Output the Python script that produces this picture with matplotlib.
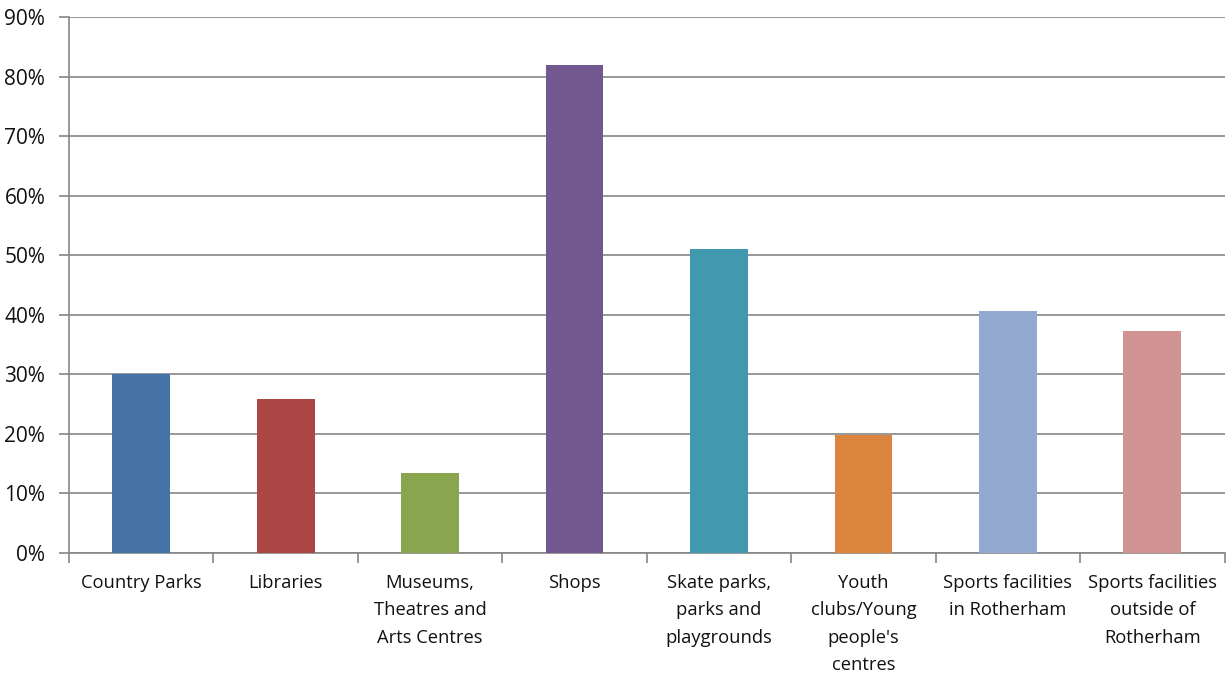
import matplotlib.pyplot as plt
from matplotlib.ticker import PercentFormatter, FixedLocator

categories = [
    "Country Parks",
    "Libraries",
    "Museums,\nTheatres and\nArts Centres",
    "Shops",
    "Skate parks,\nparks and\nplaygrounds",
    "Youth\nclubs/Young\npeople's\ncentres",
    "Sports facilities\nin Rotherham",
    "Sports facilities\noutside of\nRotherham",
]
values = [30.0, 25.8, 13.5, 81.9, 51.1, 19.8, 40.7, 37.2]
colors = ["#4572A7", "#AA4643", "#89A54E", "#71588F",
          "#4198AF", "#DB843D", "#93A9CF", "#D19392"]

plt.rcParams["font.family"] = ["Open Sans", "DejaVu Sans"]

fig = plt.figure(figsize=(12.27, 6.75), dpi=100)
ax = fig.add_axes([0.0562, 0.1807, 0.9418, 0.7941])

x = range(len(categories))
ax.bar(x, values, width=0.4, color=colors, zorder=3)

ax.set_xlim(-0.5, len(categories) - 0.5)
ax.set_ylim(0, 90)
ax.yaxis.set_major_locator(FixedLocator(range(0, 91, 10)))
ax.yaxis.set_major_formatter(PercentFormatter(decimals=0))
ax.grid(axis="y", color="#868686", linewidth=1.2, zorder=0)

# category labels centred under bars, ticks on the category boundaries
ax.set_xticks(list(x))
ax.set_xticklabels(categories, fontsize=13.2, linespacing=1.68, va="top", color="#111111")
ax.tick_params(axis="x", length=0, pad=15)
ax.set_xticks([i - 0.5 for i in range(len(categories) + 1)], minor=True)
ax.tick_params(axis="x", which="minor", length=7, color="#868686", width=1.2)
ax.tick_params(axis="y", length=7, color="#868686", width=1.2, labelsize=15,
               labelcolor="#111111", pad=10)

for side in ["top", "right"]:
    ax.spines[side].set_visible(False)
for side in ["left", "bottom"]:
    ax.spines[side].set_color("#868686")
    ax.spines[side].set_linewidth(1.2)

fig.savefig("out.png", dpi=100)
